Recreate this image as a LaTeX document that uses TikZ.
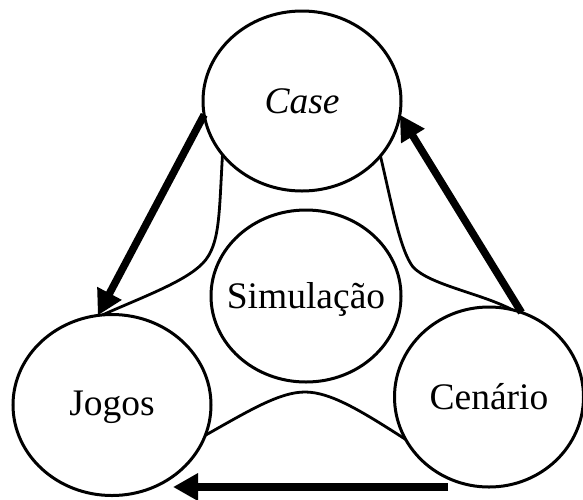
\documentclass[tikz,border=0pt]{standalone}
\usepackage{fontspec}
\setmainfont{Liberation Serif}
\usetikzlibrary{shapes.geometric,arrows.meta}
\begin{document}
\begin{tikzpicture}[x=1pt,y=-1pt,
  ell/.style={draw, ellipse, line width=3pt, inner sep=0pt, outer sep=0pt},
  txt/.style={font=\fontsize{37.5}{40}\selectfont, inner sep=0pt, text height=25pt, text depth=0pt},
  link/.style={line width=2.8pt},
  bigarrow/.style={line width=7.5pt, -{Triangle[length=25pt,width=26pt]}}]
\useasboundingbox (0,0) rectangle (583,499);
% ellipses
\node[ell, minimum width=198pt, minimum height=180pt] (case) at (302,101) {};
\node[ell, minimum width=198pt, minimum height=181pt] (jogos) at (112,405) {};
\node[ell, minimum width=189pt, minimum height=180pt] (cen) at (489,397) {};
\node[ell, minimum width=190pt, minimum height=172pt] (sim) at (306,296) {};
% texts
\node[txt] (caset) at (case) {\textit{Case}};
\node[txt] (jogost) at ([yshift=2pt]jogos.center) {Jogos};
\node[txt] (cent) at (cen) {Cenário};
\node[txt] (simt) at (sim) {Simulação};
% curved links
\draw[link] (case.214) .. controls (219,215) and (220,245) .. (203,263)
  .. controls (185,282) and (140,298) .. (jogos.96);
\draw[link] (case.325) .. controls (392,205) and (400,250) .. (413,267)
  .. controls (430,285) and (480,293) .. (cen.75);
\draw[link] (jogos.342) .. controls (250,410) and (280,392) .. (305,392)
  .. controls (330,392) and (360,410) .. (cen.207);
% arrows
\coordinate (bt) at (448,487);
\coordinate (bh) at (173,487);
\draw[bigarrow] (case.188) -- (jogos.99);
\draw[bigarrow] (cen.69) -- (case.352);
\draw[bigarrow, line width=8.5pt] (bt) -- (bh);
\end{tikzpicture}
\end{document}
